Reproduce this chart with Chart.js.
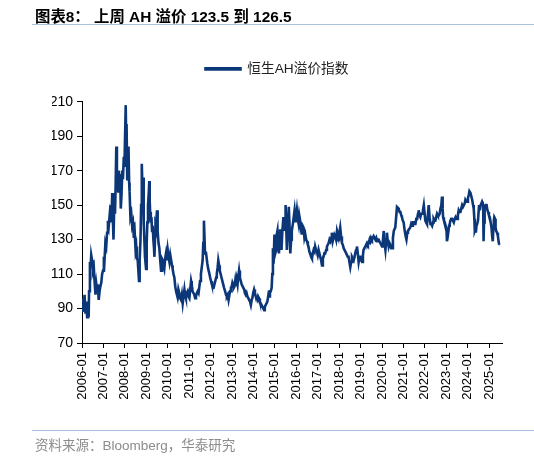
<!DOCTYPE html>
<html>
<head>
<meta charset="utf-8">
<script src="https://cdn.jsdelivr.net/npm/chart.js@4.4.1/dist/chart.umd.min.js"></script>
<style>
  body { margin: 0; background: #fff; }
  #wrap { position: relative; width: 534px; height: 456px; overflow: hidden; }
  #title { position: absolute; left: 35px; top: 4px; font: bold 15.4px "Liberation Sans", "Noto Sans CJK SC", sans-serif; color: #000; white-space: nowrap; }
  .rule { position: absolute; left: 32px; right: 0; height: 0; border-top: 1.5px solid #a9c1de; }
  #source { position: absolute; left: 35px; top: 434px; font: 13.5px "Liberation Sans", "Noto Sans CJK SC", sans-serif; color: #8c8c8c; white-space: nowrap; }
  canvas { position: absolute; left: 0; top: 0; }
</style>
</head>
<body>
<div id="wrap">
  <canvas id="chart" width="534" height="456"></canvas>
  <div id="title">图表8： 上周 AH 溢价 123.5 到 126.5</div>
  <div class="rule" style="top:24px"></div>
  <div class="rule" style="top:430px"></div>
  <div id="source">资料来源：Bloomberg，华泰研究</div>
</div>
<script>
//=================Data===================//
var seriesName = '恒生AH溢价指数';
var tickYears = [2006, 2007, 2008, 2009, 2010, 2011, 2012, 2013, 2014, 2015, 2016, 2017, 2018, 2019, 2020, 2021, 2022, 2023, 2024, 2025];
var tickLabels = ['2006-01', '2007-01', '2008-01', '2009-01', '2010-01', '2011-01', '2012-01', '2013-01', '2014-01', '2015-01', '2016-01', '2017-01', '2018-01', '2019-01', '2020-01', '2021-01', '2022-01', '2023-01', '2024-01', '2025-01'];
var yTicks = [70, 90, 110, 130, 150, 170, 190, 210];

// dates as decimal years
var dates = [
  2006.00, 2006.03, 2006.05, 2006.08, 2006.12, 2006.16, 2006.20, 2006.24, 2006.28, 2006.31, 2006.33, 2006.37, 2006.40, 2006.43, 2006.47, 2006.51, 2006.55, 2006.59, 2006.63, 2006.67, 2006.70, 2006.74, 2006.78, 2006.82, 2006.86, 2006.90, 2006.94, 2006.98,
  2007.02, 2007.05, 2007.09, 2007.13, 2007.17, 2007.21, 2007.25, 2007.29, 2007.33, 2007.36, 2007.39, 2007.41, 2007.44, 2007.47, 2007.50, 2007.54, 2007.57, 2007.60, 2007.63, 2007.66, 2007.69, 2007.72, 2007.75, 2007.78, 2007.81, 2007.84, 2007.88, 2007.91, 2007.95, 2007.98,
  2008.04, 2008.06, 2008.08, 2008.11, 2008.14, 2008.17, 2008.20, 2008.22, 2008.26, 2008.30, 2008.34, 2008.38, 2008.42, 2008.46, 2008.50, 2008.53, 2008.56, 2008.60, 2008.66, 2008.69, 2008.73, 2008.76, 2008.79, 2008.82, 2008.85, 2008.88, 2008.91, 2008.94, 2008.99,
  2009.02, 2009.05, 2009.08, 2009.12, 2009.14, 2009.16, 2009.18, 2009.21, 2009.24, 2009.27, 2009.30, 2009.33, 2009.36, 2009.38, 2009.41, 2009.43, 2009.46, 2009.50, 2009.52, 2009.54, 2009.57, 2009.61, 2009.65, 2009.69, 2009.73, 2009.77, 2009.80, 2009.84, 2009.88, 2009.92, 2009.96,
  2010.00, 2010.04, 2010.08, 2010.12, 2010.16, 2010.20, 2010.23, 2010.27, 2010.31, 2010.35, 2010.39, 2010.43, 2010.47, 2010.50, 2010.54, 2010.58, 2010.62, 2010.66, 2010.70, 2010.74, 2010.78, 2010.81, 2010.85, 2010.89, 2010.93, 2010.97,
  2011.01, 2011.05, 2011.09, 2011.12, 2011.16, 2011.20, 2011.24, 2011.28, 2011.32, 2011.36, 2011.40, 2011.44, 2011.47, 2011.51, 2011.55, 2011.59, 2011.63, 2011.66, 2011.69, 2011.72, 2011.74, 2011.78, 2011.81, 2011.85, 2011.89, 2011.93, 2011.98,
  2012.02, 2012.06, 2012.10, 2012.14, 2012.18, 2012.22, 2012.26, 2012.29, 2012.33, 2012.36, 2012.40, 2012.43, 2012.47, 2012.51, 2012.55, 2012.59, 2012.63, 2012.68, 2012.72, 2012.76, 2012.80, 2012.84, 2012.88, 2012.91, 2012.95, 2012.99,
  2013.02, 2013.05, 2013.08, 2013.12, 2013.15, 2013.18, 2013.22, 2013.26, 2013.29, 2013.33, 2013.37, 2013.41, 2013.45, 2013.49, 2013.53, 2013.57, 2013.60, 2013.64, 2013.68, 2013.72, 2013.76, 2013.80, 2013.84, 2013.88, 2013.92, 2013.95, 2013.99,
  2014.03, 2014.07, 2014.11, 2014.15, 2014.19, 2014.22, 2014.26, 2014.30, 2014.34, 2014.38, 2014.42, 2014.46, 2014.50, 2014.53, 2014.57, 2014.61, 2014.65, 2014.70, 2014.73, 2014.77, 2014.81, 2014.85, 2014.88, 2014.91, 2014.94, 2014.98,
  2015.02, 2015.06, 2015.09, 2015.12, 2015.15, 2015.19, 2015.22, 2015.25, 2015.28, 2015.31, 2015.35, 2015.40, 2015.45, 2015.48, 2015.50, 2015.53, 2015.56, 2015.60, 2015.65, 2015.68, 2015.72, 2015.76, 2015.79, 2015.85, 2015.92, 2015.97,
  2016.03, 2016.07, 2016.11, 2016.14, 2016.18, 2016.22, 2016.26, 2016.30, 2016.34, 2016.38, 2016.42, 2016.46, 2016.50, 2016.54, 2016.57, 2016.61, 2016.65, 2016.69, 2016.73, 2016.77, 2016.81, 2016.85, 2016.88, 2016.92, 2016.96,
  2017.00, 2017.04, 2017.08, 2017.12, 2017.16, 2017.20, 2017.24, 2017.27, 2017.31, 2017.35, 2017.39, 2017.43, 2017.47, 2017.51, 2017.55, 2017.59, 2017.63, 2017.66, 2017.70, 2017.74, 2017.78, 2017.82, 2017.86, 2017.90, 2017.94, 2017.98,
  2018.01, 2018.05, 2018.09, 2018.13, 2018.17, 2018.21, 2018.25, 2018.29, 2018.33, 2018.36, 2018.40, 2018.44, 2018.48, 2018.52, 2018.56, 2018.60, 2018.64, 2018.68, 2018.72, 2018.75, 2018.79, 2018.83, 2018.87, 2018.91, 2018.95, 2018.99,
  2019.03, 2019.07, 2019.11, 2019.14, 2019.18, 2019.22, 2019.26, 2019.30, 2019.34, 2019.38, 2019.42, 2019.45, 2019.49, 2019.53, 2019.57, 2019.61, 2019.65, 2019.69, 2019.73, 2019.77, 2019.81, 2019.84, 2019.88, 2019.92, 2019.96,
  2020.00, 2020.04, 2020.08, 2020.12, 2020.16, 2020.20, 2020.23, 2020.27, 2020.31, 2020.35, 2020.39, 2020.43, 2020.47, 2020.51, 2020.55, 2020.58, 2020.62, 2020.66, 2020.70, 2020.74, 2020.78, 2020.82, 2020.86, 2020.90, 2020.93, 2020.97,
  2021.01, 2021.05, 2021.09, 2021.12, 2021.14, 2021.18, 2021.21, 2021.26, 2021.32, 2021.36, 2021.40, 2021.44, 2021.48, 2021.52, 2021.56, 2021.60, 2021.64, 2021.68, 2021.71, 2021.75, 2021.79, 2021.83, 2021.87, 2021.91, 2021.95, 2021.99,
  2022.02, 2022.06, 2022.10, 2022.14, 2022.18, 2022.22, 2022.26, 2022.30, 2022.34, 2022.38, 2022.41, 2022.45, 2022.49, 2022.53, 2022.57, 2022.61, 2022.65, 2022.69, 2022.73, 2022.77, 2022.80, 2022.83, 2022.85, 2022.89, 2022.93, 2022.97,
  2023.01, 2023.03, 2023.06, 2023.10, 2023.13, 2023.16, 2023.19, 2023.23, 2023.27, 2023.31, 2023.35, 2023.39, 2023.43, 2023.46, 2023.50, 2023.54, 2023.58, 2023.62, 2023.66, 2023.70, 2023.74, 2023.78, 2023.82, 2023.86, 2023.89, 2023.93, 2023.97,
  2024.01, 2024.05, 2024.08, 2024.13, 2024.17, 2024.21, 2024.25, 2024.28, 2024.31, 2024.33, 2024.36, 2024.38, 2024.41, 2024.44, 2024.48, 2024.53, 2024.56, 2024.60, 2024.64, 2024.67, 2024.70, 2024.72, 2024.74, 2024.76, 2024.78, 2024.80, 2024.84, 2024.88, 2024.92, 2024.95, 2024.99,
  2025.03, 2025.07, 2025.11, 2025.14, 2025.17, 2025.20, 2025.22, 2025.24, 2025.28, 2025.30, 2025.33, 2025.37, 2025.41, 2025.44, 2025.47
];

var values = [
  93, 88, 96, 90, 98, 87, 94, 85, 88, 85, 100, 117, 114, 121, 118, 112, 114, 105, 98, 104, 101, 104, 95, 100, 103, 105, 110, 112,
  120, 118, 128, 126, 134, 141, 138, 144, 140, 150, 146, 157, 142, 130, 148, 145, 161, 184, 170, 165, 158, 170, 160, 168, 148, 155, 170, 165, 178, 172,
  208, 190, 197, 165, 175, 184, 163, 158, 143, 145, 138, 140, 131, 134, 124, 126, 119, 118, 106, 118, 130, 150, 174, 160, 166, 140, 130, 120, 113,
  128, 140, 150, 158, 164, 152, 146, 140, 143, 135, 138, 130, 125, 120, 132, 140, 139, 147, 140, 135, 128, 125, 118, 112, 119, 118, 115, 113, 119, 122, 118,
  124, 120, 117, 121, 118, 115, 113, 110, 108, 103, 100, 98, 97, 101, 99, 96, 95, 98, 93, 97, 101, 98, 96, 99, 100, 97,
  96, 101, 106, 104, 100, 99, 98, 96, 97, 99, 100, 99, 102, 106, 110, 114, 118, 128, 141, 130, 122, 123, 120, 116, 113, 111, 108,
  106, 104, 102, 102, 104, 106, 108, 110, 114, 118, 115, 112, 110, 108, 106, 104, 102, 100, 98, 97, 98, 95, 98, 100, 102, 103,
  105, 104, 102, 103, 106, 103, 107, 104, 108, 112, 108, 106, 104, 103, 102, 101, 99, 98, 99, 97, 96, 95, 94, 92, 95, 96, 99,
  101, 99, 97, 96, 95, 97, 96, 94, 93, 92, 91, 90, 89, 91, 92, 93, 94, 98, 97, 100, 100, 102, 110, 125, 116, 133,
  122, 124, 133, 135, 125, 122, 130, 136, 128, 124, 135, 143, 135, 142, 150, 138, 124, 135, 149, 140, 122, 130, 135, 140, 147, 140,
  147, 142, 139, 144, 141, 136, 133, 138, 137, 131, 133, 130, 129, 127, 126, 123, 122, 120, 119, 122, 124, 123, 126, 124, 123,
  121, 124, 122, 120, 118, 115, 119, 120, 122, 122, 124, 126, 127, 128, 130, 129, 131, 134, 129, 131, 133, 132, 130, 135, 133, 129,
  134, 137, 132, 128, 127, 125, 124, 123, 122, 122, 120, 120, 117, 114, 117, 120, 119, 118, 120, 122, 124, 126, 122, 117, 120, 120,
  118, 117, 121, 124, 125, 126, 127, 128, 127, 128, 130, 129, 131, 130, 131, 132, 131, 130, 131, 129, 130, 130, 129, 128, 127,
  126, 129, 135, 128, 124, 130, 134, 129, 126, 128, 127, 125, 125, 131, 135, 136, 137, 143, 149, 149, 148, 146, 146, 144, 143, 141,
  140, 136, 133, 131, 130, 134, 135, 136, 137, 139, 138, 140, 140, 139, 139, 142, 142, 145, 147, 144, 143, 145, 145, 147, 150, 145,
  141, 140, 139, 144, 150, 143, 139, 139, 138, 140, 142, 141, 141, 143, 145, 144, 144, 145, 148, 150, 155, 148, 143, 141, 140, 138,
  136, 129, 131, 135, 138, 139, 141, 142, 142, 141, 140, 142, 143, 142, 142, 144, 147, 146, 146, 148, 150, 149, 149, 151, 153, 152, 152,
  154, 156, 158, 157, 155, 153, 150, 148, 142, 135, 136, 134, 138, 139, 141, 150, 147, 150, 151, 152, 151, 150, 129, 140, 149, 149, 150, 150, 147, 146, 144,
  143, 140, 137, 132, 129, 137, 141, 143, 142, 137, 135, 134, 132, 129, 127
];

var lineColor = '#0b3779';
var fontFamily = '"Liberation Sans", "Noto Sans CJK SC", sans-serif';
var legendGap = 16;

//=================Chart===================//
var points = [];
for (var i = 0; i < dates.length; i++) {
  points.push({ x: dates[i], y: values[i] });
}

// pushes the plot down a bit below the legend
var legendSpacer = {
  id: 'legendSpacer',
  beforeInit: function(chart) {
    var origFit = chart.legend.fit;
    chart.legend.fit = function() {
      origFit.call(chart.legend);
      this.height += legendGap;
    };
  }
};

var ctx = document.getElementById('chart').getContext('2d');
var ahChart = new Chart(ctx, {
  type: 'line',
  data: {
    datasets: [{
      label: seriesName,
      data: points,
      borderColor: lineColor,
      backgroundColor: lineColor,
      borderWidth: 2.6,
      pointRadius: 0,
      tension: 0
    }]
  },
  plugins: [legendSpacer],
  options: {
    responsive: false,
    animation: false,
    // wide left padding + narrow y axis keeps the legend centred like the original
    layout: { padding: { left: 52, right: 32, top: 52, bottom: 43 } },
    plugins: {
      tooltip: { enabled: false },
      legend: {
        labels: {
          boxWidth: 35,
          boxHeight: 1,
          padding: 10,
          color: '#222',
          font: { size: 13.7, family: fontFamily }
        }
      }
    },
    scales: {
      x: {
        type: 'linear',
        min: 2006,
        max: 2025.6,
        afterBuildTicks: function(scale) {
          scale.ticks = tickYears.map(function(y) { return { value: y }; });
        },
        afterFit: function(scale) { scale.height = 70; },
        ticks: {
          autoSkip: false,
          minRotation: 90,
          maxRotation: 90,
          padding: 4,
          color: '#000',
          font: { size: 13, family: fontFamily },
          callback: function(value) {
            var idx = tickYears.indexOf(value);
            return idx >= 0 ? tickLabels[idx] : '';
          }
        },
        grid: { drawOnChartArea: false, color: '#000', tickLength: 5 },
        border: { color: '#000', width: 1 }
      },
      y: {
        min: 70,
        max: 210,
        afterBuildTicks: function(scale) {
          scale.ticks = yTicks.map(function(v) { return { value: v }; });
        },
        afterFit: function(scale) { scale.width = 30; },
        ticks: {
          padding: 4,
          color: '#000',
          font: { size: 14, family: fontFamily }
        },
        grid: { drawOnChartArea: false, color: '#000', tickLength: 5 },
        border: { color: '#000', width: 1 }
      }
    }
  }
});
</script>
</body>
</html>
